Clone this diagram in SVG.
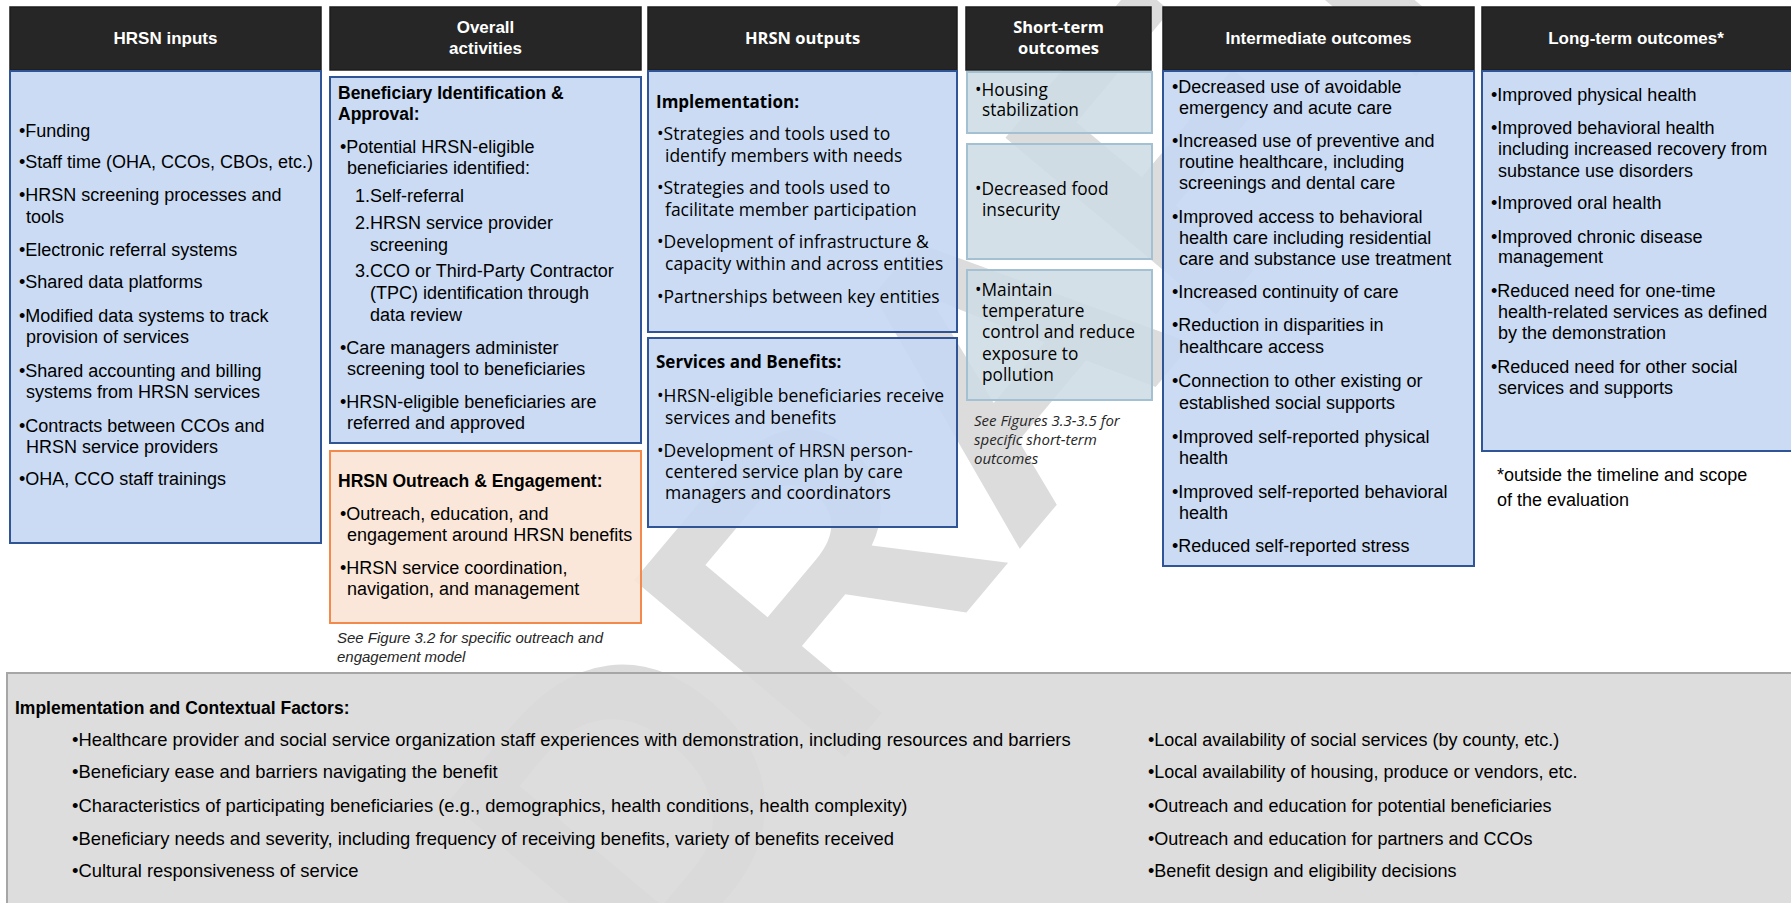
<svg xmlns="http://www.w3.org/2000/svg" width="1791" height="903" viewBox="0 0 1791 903">
<style>
.hdr{fill:#262626;stroke:#1c1c1c;stroke-width:1.5}
.ht{font-family:"Liberation Sans",Arial,sans-serif;font-weight:bold;font-size:17px;fill:#ffffff;text-anchor:middle}
.hto{font-family:"Open Sans","Liberation Sans",sans-serif;font-weight:bold;font-size:16.5px;fill:#ffffff;text-anchor:middle}
.blue{fill:#c4d7f2;fill-opacity:0.9;stroke:#2f5597;stroke-width:2}
.orange{fill:#fbe4d5;fill-opacity:0.9;stroke:#f4894c;stroke-width:2}
.st{fill:#cedce4;fill-opacity:0.88;stroke:#a3c1d2;stroke-width:2}
.ctx{fill:#d9d9d9;fill-opacity:0.9;stroke:#a6a6a6;stroke-width:2}
.t{font-family:"Liberation Sans",Arial,sans-serif;font-size:18px;fill:#000000}
.tl{font-family:"Liberation Sans",Arial,sans-serif;font-size:18.4px;fill:#000000}
.tb{font-family:"Liberation Sans",Arial,sans-serif;font-size:17.5px;font-weight:bold;fill:#000000}
.o{font-family:"Open Sans","Liberation Sans",sans-serif;font-size:17.5px;fill:#000000}
.os{font-family:"Open Sans","Liberation Sans",sans-serif;font-size:17.3px;fill:#000000}
.ob{font-family:"Open Sans","Liberation Sans",sans-serif;font-size:17px;font-weight:bold;fill:#000000}
.cap{font-family:"Liberation Sans",Arial,sans-serif;font-size:15px;font-style:italic;fill:#262626}
.capo{font-family:"Open Sans","Liberation Sans",sans-serif;font-size:15px;font-style:italic;fill:#262626}
.wm{font-family:"Liberation Sans",Arial,sans-serif;font-size:400px;font-weight:bold;fill:#dcdcdc}
</style>

<g id="watermark">
<text class="wm" transform="translate(642,999) rotate(-50)">DRAFT</text>
</g>

<g id="connectors"></g>

<g id="hrsn-inputs">
<rect class="hdr" x="10" y="7" width="311" height="63"/>
<text class="ht" x="165.5" y="44">HRSN inputs</text>
<rect class="blue" x="10" y="71" width="311" height="472"/>
<text class="t" x="19" y="137">•Funding</text>
<text class="t" x="19" y="168">•Staff time (OHA, CCOs, CBOs, etc.)</text>
<text class="t" x="19" y="201">•HRSN screening processes and</text>
<text class="t" x="26" y="223">tools</text>
<text class="t" x="19" y="256">•Electronic referral systems</text>
<text class="t" x="19" y="288">•Shared data platforms</text>
<text class="t" x="19" y="322">•Modified data systems to track</text>
<text class="t" x="26" y="343">provision of services</text>
<text class="t" x="19" y="377">•Shared accounting and billing</text>
<text class="t" x="26" y="398">systems from HRSN services</text>
<text class="t" x="19" y="432">•Contracts between CCOs and</text>
<text class="t" x="26" y="453">HRSN service providers</text>
<text class="t" x="19" y="485">•OHA, CCO staff trainings</text>
</g>

<g id="overall-activities">
<rect class="hdr" x="330" y="7" width="311" height="63"/>
<text class="ht" x="485.5" y="33">Overall</text>
<text class="ht" x="485.5" y="54">activities</text>
</g>

<g id="beneficiary-identification">
<rect class="blue" x="330" y="77" width="311" height="366"/>
<text class="tb" x="338" y="99">Beneficiary Identification &amp;</text>
<text class="tb" x="338" y="120">Approval:</text>
<text class="t" x="340" y="153">•Potential HRSN-eligible</text>
<text class="t" x="347" y="174">beneficiaries identified:</text>
<text class="t" x="355" y="202">1.</text><text class="t" x="370" y="202">Self-referral</text>
<text class="t" x="355" y="229">2.</text><text class="t" x="370" y="229">HRSN service provider</text>
<text class="t" x="370" y="251">screening</text>
<text class="t" x="355" y="277">3.</text><text class="t" x="370" y="277">CCO or Third-Party Contractor</text>
<text class="t" x="370" y="299">(TPC) identification through</text>
<text class="t" x="370" y="321">data review</text>
<text class="t" x="340" y="354">•Care managers administer</text>
<text class="t" x="347" y="375">screening tool to beneficiaries</text>
<text class="t" x="340" y="408">•HRSN-eligible beneficiaries are</text>
<text class="t" x="347" y="429">referred and approved</text>
</g>

<g id="outreach-engagement">
<rect class="orange" x="330" y="451" width="311" height="172"/>
<text class="tb" x="338" y="487">HRSN Outreach &amp; Engagement:</text>
<text class="t" x="340" y="520">•Outreach, education, and</text>
<text class="t" x="347" y="541">engagement around HRSN benefits</text>
<text class="t" x="340" y="574">•HRSN service coordination,</text>
<text class="t" x="347" y="595">navigation, and management</text>
<text class="cap" x="337" y="643">See Figure 3.2 for specific outreach and</text>
<text class="cap" x="337" y="662">engagement model</text>
</g>

<g id="hrsn-outputs">
<rect class="hdr" x="648" y="7" width="309" height="63"/>
<text class="hto" x="802.5" y="44">HRSN outputs</text>
</g>

<g id="implementation">
<rect class="blue" x="648" y="71" width="309" height="261"/>
<text class="ob" x="656" y="108">Implementation:</text>
<text class="o" x="657" y="140">•Strategies and tools used to</text>
<text class="o" x="665" y="162">identify members with needs</text>
<text class="o" x="657" y="194">•Strategies and tools used to</text>
<text class="o" x="665" y="216">facilitate member participation</text>
<text class="o" x="657" y="248">•Development of infrastructure &amp;</text>
<text class="o" x="665" y="270">capacity within and across entities</text>
<text class="o" x="657" y="303">•Partnerships between key entities</text>
</g>

<g id="services-benefits">
<rect class="blue" x="648" y="338" width="309" height="189"/>
<text class="ob" x="656" y="368">Services and Benefits:</text>
<text class="o" x="657" y="402">•HRSN-eligible beneficiaries receive</text>
<text class="o" x="665" y="424">services and benefits</text>
<text class="o" x="657" y="457">•Development of HRSN person-</text>
<text class="o" x="665" y="478">centered service plan by care</text>
<text class="o" x="665" y="499">managers and coordinators</text>
</g>

<g id="short-term-outcomes">
<rect class="hdr" x="966" y="7" width="185" height="63"/>
<text class="hto" x="1058.5" y="33">Short-term</text>
<text class="hto" x="1058.5" y="54">outcomes</text>
<text class="capo" x="974" y="426">See Figures 3.3-3.5 for</text>
<text class="capo" x="974" y="445">specific short-term</text>
<text class="capo" x="974" y="464">outcomes</text>
</g>

<g id="housing-stabilization">
<rect class="st" x="967" y="72" width="185" height="61"/>
<text class="os" x="975" y="96">•Housing</text>
<text class="os" x="982" y="116">stabilization</text>
</g>

<g id="food-insecurity">
<rect class="st" x="967" y="144" width="185" height="115"/>
<text class="os" x="975" y="195">•Decreased food</text>
<text class="os" x="982" y="216">insecurity</text>
</g>

<g id="temperature-control">
<rect class="st" x="967" y="270" width="185" height="130"/>
<text class="os" x="975" y="296">•Maintain</text>
<text class="os" x="982" y="317">temperature</text>
<text class="os" x="982" y="338">control and reduce</text>
<text class="os" x="982" y="360">exposure to</text>
<text class="os" x="982" y="381">pollution</text>
</g>

<g id="intermediate-outcomes">
<rect class="hdr" x="1163" y="7" width="311" height="63"/>
<text class="ht" x="1318.5" y="44">Intermediate outcomes</text>
<rect class="blue" x="1163" y="71" width="311" height="495"/>
<text class="t" x="1172" y="93">•Decreased use of avoidable</text>
<text class="t" x="1179" y="114">emergency and acute care</text>
<text class="t" x="1172" y="147">•Increased use of preventive and</text>
<text class="t" x="1179" y="168">routine healthcare, including</text>
<text class="t" x="1179" y="189">screenings and dental care</text>
<text class="t" x="1172" y="223">•Improved access to behavioral</text>
<text class="t" x="1179" y="244">health care including residential</text>
<text class="t" x="1179" y="265">care and substance use treatment</text>
<text class="t" x="1172" y="298">•Increased continuity of care</text>
<text class="t" x="1172" y="331">•Reduction in disparities in</text>
<text class="t" x="1179" y="353">healthcare access</text>
<text class="t" x="1172" y="387">•Connection to other existing or</text>
<text class="t" x="1179" y="409">established social supports</text>
<text class="t" x="1172" y="443">•Improved self-reported physical</text>
<text class="t" x="1179" y="464">health</text>
<text class="t" x="1172" y="498">•Improved self-reported behavioral</text>
<text class="t" x="1179" y="519">health</text>
<text class="t" x="1172" y="552">•Reduced self-reported stress</text>
</g>

<g id="long-term-outcomes">
<rect class="hdr" x="1482" y="7" width="310" height="63"/>
<text class="ht" x="1636" y="44">Long-term outcomes*</text>
<rect class="blue" x="1482" y="71" width="310" height="380"/>
<text class="t" x="1491" y="101">•Improved physical health</text>
<text class="t" x="1491" y="134">•Improved behavioral health</text>
<text class="t" x="1498" y="155">including increased recovery from</text>
<text class="t" x="1498" y="177">substance use disorders</text>
<text class="t" x="1491" y="209">•Improved oral health</text>
<text class="t" x="1491" y="243">•Improved chronic disease</text>
<text class="t" x="1498" y="263">management</text>
<text class="t" x="1491" y="297">•Reduced need for one-time</text>
<text class="t" x="1498" y="318">health-related services as defined</text>
<text class="t" x="1498" y="339">by the demonstration</text>
<text class="t" x="1491" y="373">•Reduced need for other social</text>
<text class="t" x="1498" y="394">services and supports</text>
<text class="t" x="1497" y="481">*outside the timeline and scope</text>
<text class="t" x="1497" y="506">of the evaluation</text>
</g>

<g id="contextual-factors">
<rect class="ctx" x="7" y="673" width="1792" height="240"/>
<text class="tb" x="15" y="714">Implementation and Contextual Factors:</text>
<text class="tl" x="72" y="746">•Healthcare provider and social service organization staff experiences with demonstration, including resources and barriers</text>
<text class="tl" x="72" y="778">•Beneficiary ease and barriers navigating the benefit</text>
<text class="tl" x="72" y="812">•Characteristics of participating beneficiaries (e.g., demographics, health conditions, health complexity)</text>
<text class="tl" x="72" y="845">•Beneficiary needs and severity, including frequency of receiving benefits, variety of benefits received</text>
<text class="tl" x="72" y="877">•Cultural responsiveness of service</text>
<text class="t" x="1148" y="746">•Local availability of social services (by county, etc.)</text>
<text class="t" x="1148" y="778">•Local availability of housing, produce or vendors, etc.</text>
<text class="t" x="1148" y="812">•Outreach and education for potential beneficiaries</text>
<text class="t" x="1148" y="845">•Outreach and education for partners and CCOs</text>
<text class="t" x="1148" y="877">•Benefit design and eligibility decisions</text>
</g>
</svg>
